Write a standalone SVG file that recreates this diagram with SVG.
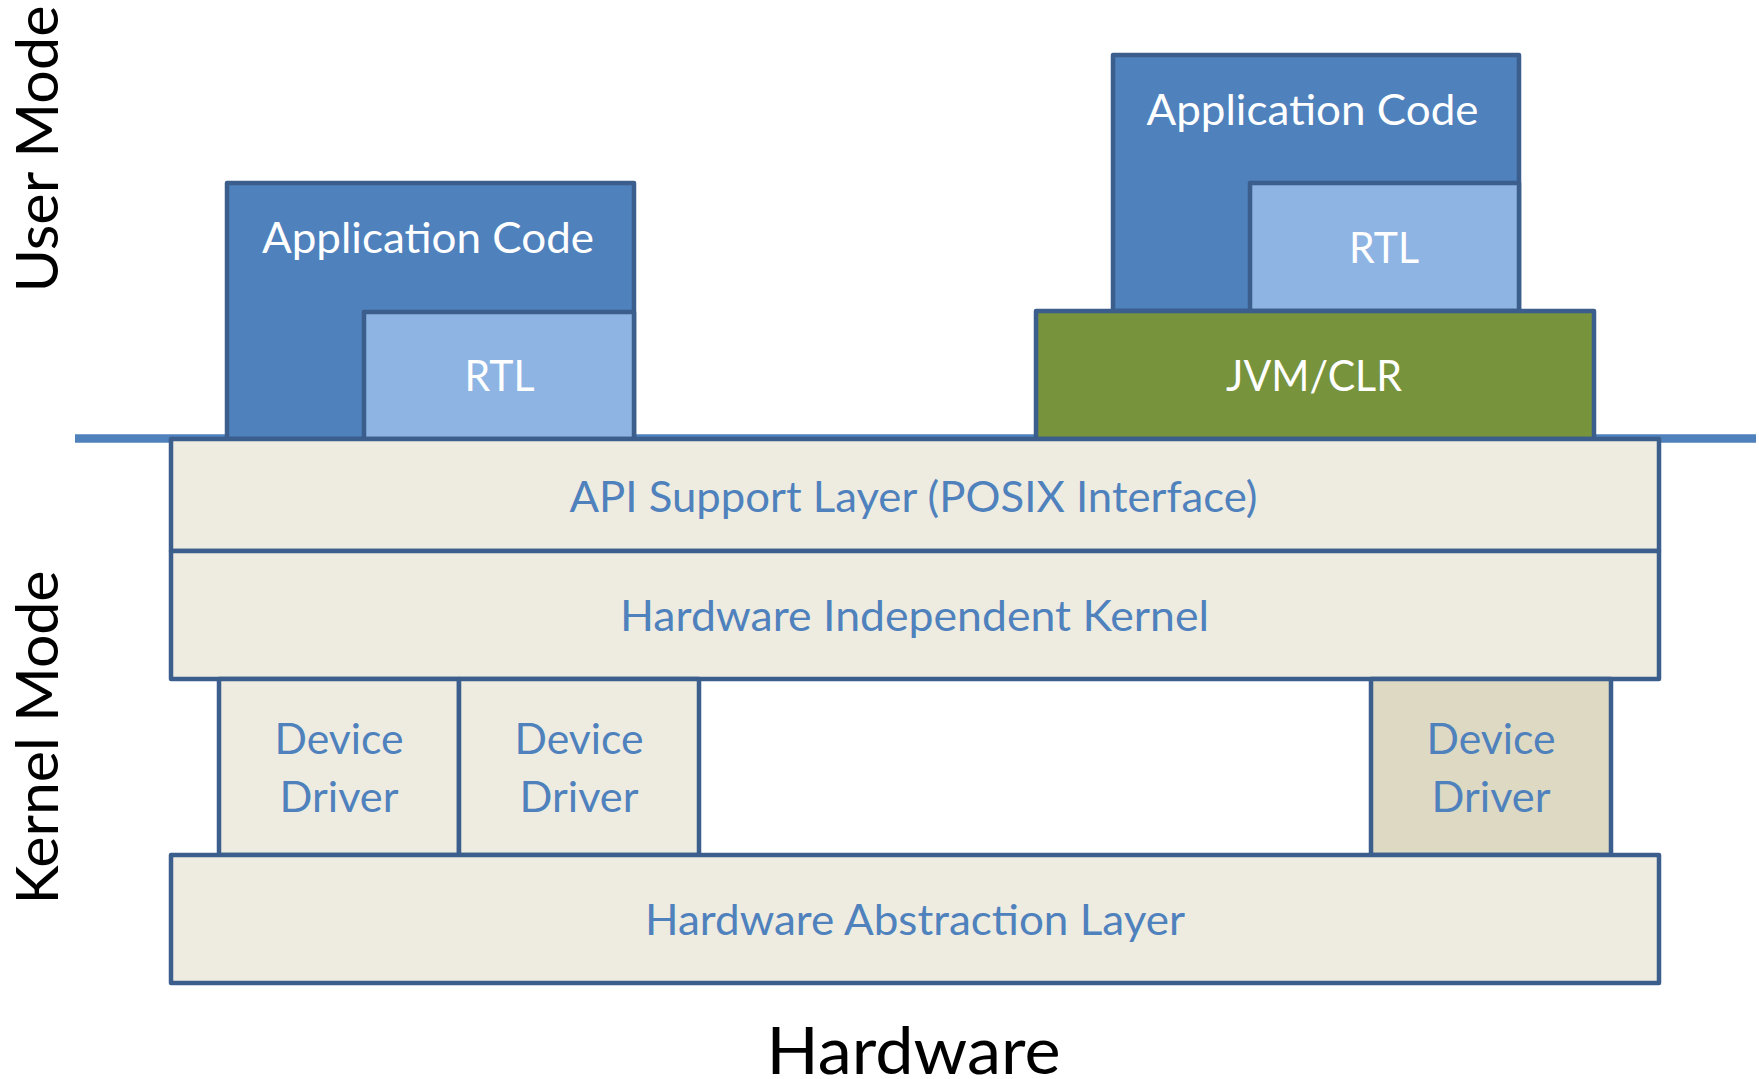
<svg xmlns="http://www.w3.org/2000/svg" width="1759" height="1079" viewBox="0 0 1759 1079">
<style>
.box{stroke:#3B5E8C;stroke-width:4.5;stroke-linejoin:round}
.app{fill:#4F81BD}
.rtl{fill:#8EB4E3}
.jvm{fill:#77933C}
.krn{fill:#EEECE1}
.dd3{fill:#DDD9C3}
text{font-family:Lato,"Open Sans","Liberation Sans",sans-serif;text-anchor:middle}
.w{fill:#FFFFFF;font-size:43px}
.b{fill:#4F81BD;font-size:43px}
.k{fill:#000000}
</style>
<rect width="1759" height="1079" fill="#FFFFFF"/>
<g id="separator">
<line x1="75" y1="438.5" x2="1756" y2="438.5" stroke="#4F81BD" stroke-width="8.5"/>
</g>
<g id="app-left">
<rect class="box app" x="227" y="183" width="407" height="256"/>
<text class="w" x="428" y="253" textLength="332" lengthAdjust="spacingAndGlyphs">Application Code</text>
</g>
<g id="rtl-left">
<rect class="box rtl" x="364" y="312" width="270" height="127"/>
<text class="w" x="499.5" y="391" textLength="70" lengthAdjust="spacingAndGlyphs">RTL</text>
</g>
<g id="app-right">
<rect class="box app" x="1113" y="55" width="406" height="256"/>
<text class="w" x="1312.5" y="125" textLength="332" lengthAdjust="spacingAndGlyphs">Application Code</text>
</g>
<g id="rtl-right">
<rect class="box rtl" x="1250" y="183" width="269" height="128"/>
<text class="w" x="1384" y="263" textLength="70" lengthAdjust="spacingAndGlyphs">RTL</text>
</g>
<g id="jvm-clr">
<rect class="box jvm" x="1036" y="311" width="558" height="128"/>
<text class="w" x="1314" y="391" textLength="176" lengthAdjust="spacingAndGlyphs">JVM/CLR</text>
</g>
<g id="api-layer">
<rect class="box krn" x="171" y="439" width="1488" height="112"/>
<text class="b" x="913.5" y="512" textLength="688" lengthAdjust="spacingAndGlyphs">API Support Layer (POSIX Interface)</text>
</g>
<g id="hw-independent-kernel">
<rect class="box krn" x="171" y="551" width="1488" height="128"/>
<text class="b" x="914.5" y="631" textLength="589" lengthAdjust="spacingAndGlyphs">Hardware Independent Kernel</text>
</g>
<g id="device-driver-1">
<rect class="box krn" x="219" y="679" width="240" height="176"/>
<text class="b" x="339" y="754" textLength="129" lengthAdjust="spacingAndGlyphs">Device</text>
<text class="b" x="339" y="812" textLength="119" lengthAdjust="spacingAndGlyphs">Driver</text>
</g>
<g id="device-driver-2">
<rect class="box krn" x="459" y="679" width="240" height="176"/>
<text class="b" x="579" y="754" textLength="129" lengthAdjust="spacingAndGlyphs">Device</text>
<text class="b" x="579" y="812" textLength="119" lengthAdjust="spacingAndGlyphs">Driver</text>
</g>
<g id="device-driver-3">
<rect class="box dd3" x="1371" y="679" width="240" height="176"/>
<text class="b" x="1491" y="754" textLength="129" lengthAdjust="spacingAndGlyphs">Device</text>
<text class="b" x="1491" y="812" textLength="119" lengthAdjust="spacingAndGlyphs">Driver</text>
</g>
<g id="hal">
<rect class="box krn" x="171" y="855" width="1488" height="128"/>
<text class="b" x="915" y="935" textLength="540" lengthAdjust="spacingAndGlyphs">Hardware Abstraction Layer</text>
</g>
<g id="labels">
<text class="k" x="913.5" y="1074" font-size="66" textLength="294" lengthAdjust="spacingAndGlyphs">Hardware</text>
<text class="k" transform="translate(57.5,149) rotate(-90)" x="0" y="0" font-size="57.6" textLength="287" lengthAdjust="spacingAndGlyphs">User Mode</text>
<text class="k" transform="translate(57.5,737.5) rotate(-90)" x="0" y="0" font-size="57.6" textLength="334" lengthAdjust="spacingAndGlyphs">Kernel Mode</text>
</g>
</svg>
